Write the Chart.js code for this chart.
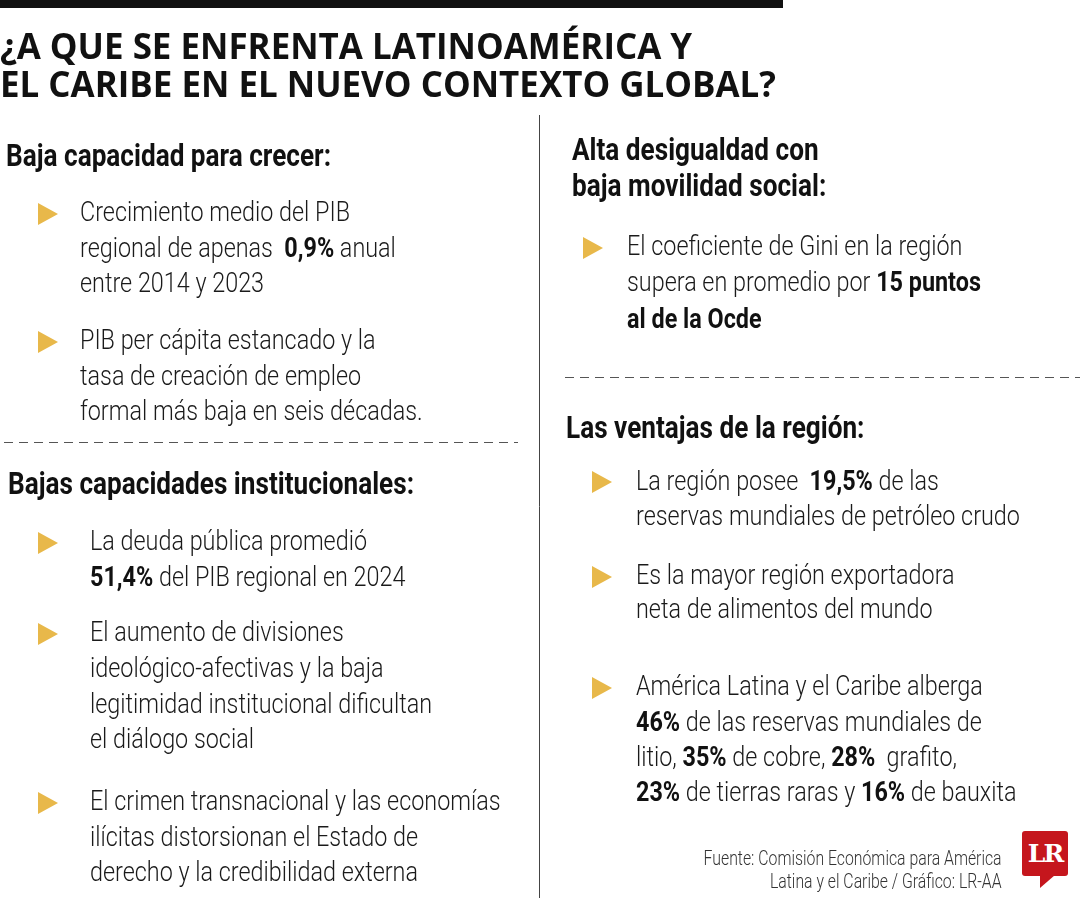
<!DOCTYPE html>
<html lang="es">
<head>
<meta charset="utf-8">
<script src="https://cdn.jsdelivr.net/npm/chart.js@4.4.1/dist/chart.umd.min.js"></script>
<style>
  html, body { margin: 0; padding: 0; background: #fff; }
  #page { position: relative; width: 1080px; height: 900px; overflow: hidden; }
  #frame { position: absolute; left: 0; top: 0; width: 1080px; height: 900px; z-index: 0; }
  .t { position: absolute; white-space: nowrap; z-index: 1; transform-origin: 0 50%; }
  .title { font-family: "Open Sans"; font-weight: 700; font-size: 36px; color: #111; }
  .head { font-family: Roboto; font-weight: 700; font-size: 32px; color: #111; }
  .body { font-family: Roboto; font-weight: 300; font-size: 28px; color: #1a1a1a; }
  .body b { font-weight: 700; color: #111; }
  .src { font-family: Roboto; font-weight: 300; font-size: 19.5px; color: #333; text-align: right; transform-origin: 100% 50%; }
  .tri { position: absolute; width: 0; height: 0; z-index: 1;
    border-top: 11px solid transparent; border-bottom: 11px solid transparent; border-left: 20px solid #E8B84A; }
  #logo { position: absolute; left: 1022px; top: 831px; width: 46px; height: 45px; background: #C5161D;
    border-radius: 3px; color: #fff; font-family: "DejaVu Serif"; font-weight: 700; font-size: 25px;
    line-height: 45px; text-align: center; letter-spacing: -2px; z-index: 1; }
  #tail { position: absolute; left: 1040px; top: 875px; width: 0; height: 0; z-index: 1;
    border-top: 13px solid #C5161D; border-right: 15px solid transparent; }
</style>
</head>
<body>
<div id="page">
  <canvas id="frame" width="1080" height="900"></canvas>
  <div id="logo">LR</div>
  <div id="tail"></div>
</div>
<script>
const titulo = ["¿A QUE SE ENFRENTA LATINOAMÉRICA Y", "EL CARIBE EN EL NUEVO CONTEXTO GLOBAL?"]
const crecimientoPIB = [0.9]
const periodo = [2014, 2023]
const deudaPIB = [51.4]
const deudaAnio = [2024]
const giniPuntos = [15]
const petroleoPct = [19.5]
const minerales = ["litio", "cobre", "grafito", "tierras raras", "bauxita"]
const mineralesPct = [46, 35, 28, 23, 16]
const fuente = ["Fuente: Comisión Económica para América", "Latina y el Caribe / Gráfico: LR-AA"]

function pct(v) {
  return String(v).replace(".", ",") + "%"
}

const headings = [
  { x: 6, c: 155, lh: 36, lines: ["Baja capacidad para crecer:"] },
  { x: 8, c: 483, lh: 36, lines: ["Bajas capacidades institucionales:"] },
  { x: 572, c: 149, lh: 36, lines: ["Alta desigualdad con", "baja movilidad social:"] },
  { x: 566, c: 427, lh: 36, lines: ["Las ventajas de la región:"] },
]

const bullets = [
  { x: 80, tx: 38, c: 212, lh: 35.5, lines: [
    "Crecimiento medio del PIB",
    `regional de apenas &nbsp;<b>${pct(crecimientoPIB[0])}</b> anual`,
    `entre ${periodo[0]} y ${periodo[1]}`] },
  { x: 80, tx: 38, c: 340, lh: 35.5, lines: [
    "PIB per cápita estancado y la",
    "tasa de creación de empleo",
    "formal más baja en seis décadas."] },
  { x: 90, tx: 38, c: 541, lh: 35.5, lines: [
    "La deuda pública promedió",
    `<b>${pct(deudaPIB[0])}</b> del PIB regional en ${deudaAnio[0]}`] },
  { x: 90, tx: 38, c: 632, lh: 35.7, lines: [
    "El aumento de divisiones",
    "ideológico-afectivas y la baja",
    "legitimidad institucional dificultan",
    "el diálogo social"] },
  { x: 90, tx: 38, c: 801, lh: 35.5, lines: [
    "El crimen transnacional y las economías",
    "ilícitas distorsionan el Estado de",
    "derecho y la credibilidad externa"] },
  { x: 627, tx: 583, c: 246, lh: 36.5, lines: [
    "El coeficiente de Gini en la región",
    `supera en promedio por <b>${giniPuntos[0]} puntos</b>`,
    "<b>al de la Ocde</b>"] },
  { x: 636, tx: 592, c: 480, lh: 35, lines: [
    `La región posee &nbsp;<b>${pct(petroleoPct[0])}</b> de las`,
    "reservas mundiales de petróleo crudo"] },
  { x: 636, tx: 592, c: 575, lh: 34.5, lines: [
    "Es la mayor región exportadora",
    "neta de alimentos del mundo"] },
  { x: 636, tx: 592, c: 686, lh: 35.3, lines: [
    "América Latina y el Caribe alberga",
    `<b>${pct(mineralesPct[0])}</b> de las reservas mundiales de`,
    `${minerales[0]}, <b>${pct(mineralesPct[1])}</b> de ${minerales[1]}, <b>${pct(mineralesPct[2])}</b>&nbsp; ${minerales[2]},`,
    `<b>${pct(mineralesPct[3])}</b> de ${minerales[3]} y <b>${pct(mineralesPct[4])}</b> de ${minerales[4]}`] },
]

const page = document.getElementById("page")

function addBlock(cls, x, c, lh, lines) {
  const el = document.createElement("div")
  el.className = "t " + cls
  el.style.left = x + "px"
  el.style.top = c - lh / 2 + "px"
  el.style.lineHeight = lh + "px"
  el.innerHTML = lines.join("<br>")
  page.appendChild(el)
  return el
}

addBlock("title", 0, 46, 38, titulo)
headings.forEach((h) => addBlock("head", h.x, h.c, h.lh, h.lines))
bullets.forEach((b) => {
  addBlock("body", b.x, b.c, b.lh, b.lines)
  const tri = document.createElement("div")
  tri.className = "tri"
  tri.style.left = b.tx + "px"
  tri.style.top = b.c - 9 + "px"
  page.appendChild(tri)
})
const srcEl = document.createElement("div")
srcEl.className = "t src"
srcEl.style.right = 1080 - 1002 + "px"
srcEl.style.top = 858 - 11.5 + "px"
srcEl.style.lineHeight = "23px"
srcEl.innerHTML = fuente.join("<br>")
page.appendChild(srcEl)

// condensed look: squeeze each text style so a reference line gets its measured width
function fitStyle(cls, text, target) {
  const probe = document.createElement("span")
  probe.className = "t " + cls
  probe.style.visibility = "hidden"
  probe.innerHTML = text
  page.appendChild(probe)
  const w = probe.getBoundingClientRect().width
  probe.remove()
  const s = target / w
  page.querySelectorAll(".t." + cls).forEach((el) => {
    el.style.transform = `scaleX(${s})`
  })
}

document.fonts.ready.then(() => {
  fitStyle("title", titulo[1], 776)
  fitStyle("head", "Bajas capacidades institucionales:", 406)
  fitStyle("body", "Crecimiento medio del PIB", 270)
  fitStyle("src", fuente[0], 298)
})

// rules of the layout drawn on the chart canvas
const framePlugin = {
  id: "frame",
  afterDraw(chart) {
    const c = chart.ctx
    c.save()
    c.fillStyle = "#111"
    c.fillRect(0, 0, 783, 8)
    c.strokeStyle = "#444"
    c.lineWidth = 1
    c.beginPath()
    c.moveTo(539.5, 115)
    c.lineTo(539.5, 898)
    c.stroke()
    c.setLineDash([9, 6])
    c.strokeStyle = "#555"
    c.beginPath()
    c.moveTo(4, 442.5)
    c.lineTo(518, 442.5)
    c.stroke()
    c.beginPath()
    c.moveTo(565, 377.5)
    c.lineTo(1080, 377.5)
    c.stroke()
    c.restore()
  },
}

new Chart(document.getElementById("frame"), {
  type: "scatter",
  data: { datasets: [] },
  options: {
    responsive: false,
    animation: false,
    events: [],
    layout: { padding: 0 },
    plugins: { legend: { display: false }, tooltip: { enabled: false } },
    scales: { x: { display: false }, y: { display: false } },
  },
  plugins: [framePlugin],
})
</script>
</body>
</html>
